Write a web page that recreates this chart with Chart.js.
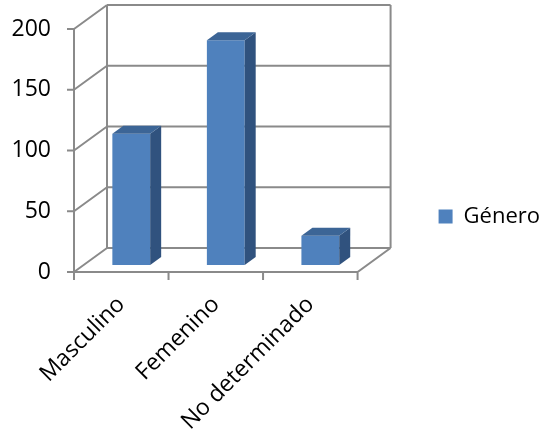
<!DOCTYPE html>
<html lang="es">
<head>
  <meta charset="UTF-8" />
  <title>Género</title>
  <script src="https://cdn.jsdelivr.net/npm/chart.js"></script>
  <style>
    html, body { margin: 0; padding: 0; background: #fff; }
    .wrap { width: 541px; height: 433px; }
  </style>
</head>
<body>
  <div class="wrap"><canvas id="generoChart"></canvas></div>

  <script>
    const categories = ['Masculino', 'Femenino', 'No determinado'];
    const values = [108, 185, 24];
    const seriesLabel = 'Género';
    const yMin = 0, yMax = 200, yStep = 50;

    // caja 3D: fondo desplazado respecto al plano frontal
    const DEPTH_X = 33, DEPTH_Y = -24;
    const BAR_SHIFT_X = 10, BAR_SHIFT_Y = -7;   // las barras quedan hacia el centro de la caja
    const BAR_DEPTH_X = 11, BAR_DEPTH_Y = -8;
    const FRONT_TOP = 29;     // borde superior del plano frontal (deja sitio a la pared del fondo)
    const RIGHT_GAP = 80;     // espacio entre el plano frontal y la leyenda
    const LINE = '#8a8a8a';
    const FONT = "'Open Sans', sans-serif";

    const box3d = {
      id: 'box3d',
      afterLayout(chart) {
        // recortar las escalas al plano frontal de la caja
        const x = chart.scales.x, y = chart.scales.y;
        x.right = chart.chartArea.right - RIGHT_GAP;
        x.width = x.right - x.left;
        x.configure();
        y.top = FRONT_TOP;
        y.height = y.bottom - y.top;
        y.configure();
      },
      beforeDatasetsDraw(chart) {
        const ctx = chart.ctx, x = chart.scales.x, y = chart.scales.y;
        const L = x.left, R = x.right, B = y.getPixelForValue(yMin), T = y.getPixelForValue(yMax);
        ctx.save();
        ctx.strokeStyle = LINE;
        ctx.lineWidth = 2;
        ctx.beginPath();
        // pared del fondo
        ctx.moveTo(L + DEPTH_X, T + DEPTH_Y); ctx.lineTo(L + DEPTH_X, B + DEPTH_Y);
        ctx.moveTo(R + DEPTH_X, T + DEPTH_Y); ctx.lineTo(R + DEPTH_X, B + DEPTH_Y);
        for (let v = yMin; v <= yMax; v += yStep) {
          const py = y.getPixelForValue(v);
          ctx.moveTo(L + DEPTH_X, py + DEPTH_Y); ctx.lineTo(R + DEPTH_X, py + DEPTH_Y);
          // pared izquierda
          ctx.moveTo(L, py); ctx.lineTo(L + DEPTH_X, py + DEPTH_Y);
          // marcas del eje y
          ctx.moveTo(L - 7, py); ctx.lineTo(L, py);
        }
        // eje y y borde frontal del suelo
        ctx.moveTo(L, T); ctx.lineTo(L, B); ctx.lineTo(R, B);
        ctx.lineTo(R + DEPTH_X, B + DEPTH_Y);
        // marcas entre categorías
        const step = (R - L) / categories.length;
        for (let i = 0; i <= categories.length; i++) {
          const px = L + i * step;
          ctx.moveTo(px, B); ctx.lineTo(px, B + 8);
        }
        ctx.stroke();
        ctx.restore();

        ctx.save();
        ctx.translate(BAR_SHIFT_X, BAR_SHIFT_Y);
      },
      afterDatasetsDraw(chart) {
        const ctx = chart.ctx;
        chart.getDatasetMeta(0).data.forEach(bar => {
          const { x, y, base, width } = bar.getProps(['x', 'y', 'base', 'width'], true);
          const l = x - width / 2, r = x + width / 2;
          // cara lateral
          ctx.fillStyle = '#30527e';
          ctx.beginPath();
          ctx.moveTo(r, y); ctx.lineTo(r + BAR_DEPTH_X, y + BAR_DEPTH_Y);
          ctx.lineTo(r + BAR_DEPTH_X, base + BAR_DEPTH_Y); ctx.lineTo(r, base);
          ctx.closePath(); ctx.fill();
          // cara superior
          ctx.fillStyle = '#3c6596';
          ctx.beginPath();
          ctx.moveTo(l, y); ctx.lineTo(l + BAR_DEPTH_X, y + BAR_DEPTH_Y);
          ctx.lineTo(r + BAR_DEPTH_X, y + BAR_DEPTH_Y); ctx.lineTo(r, y);
          ctx.closePath(); ctx.fill();
        });
        ctx.restore();
      }
    };

    new Chart(document.getElementById('generoChart'), {
      type: 'bar',
      data: {
        labels: categories,
        datasets: [{
          label: seriesLabel,
          data: values,
          backgroundColor: '#4f81bd',
          borderWidth: 0,
          barPercentage: 0.4,
          categoryPercentage: 1.0,
          clip: false
        }]
      },
      options: {
        responsive: true,
        maintainAspectRatio: false,
        animation: false,
        layout: { padding: { top: 0, left: 0, bottom: 0, right: -9 } },
        plugins: {
          legend: {
            position: 'right',
            labels: {
              boxWidth: 14,
              boxHeight: 14,
              padding: 1,
              color: '#000',
              font: { family: FONT, size: 22 }
            }
          },
          tooltip: { enabled: false }
        },
        scales: {
          x: {
            grid: { display: false, drawTicks: false },
            border: { display: false },
            ticks: {
              color: '#000',
              font: { family: FONT, size: 23 },
              minRotation: 45,
              maxRotation: 45,
              autoSkip: false,
              padding: 19
            },
            afterFit: s => { s.height = 161; }
          },
          y: {
            min: yMin,
            max: yMax,
            grid: { display: false, drawTicks: false },
            border: { display: false },
            ticks: {
              stepSize: yStep,
              color: '#000',
              font: { family: FONT, size: 23 },
              padding: 23
            },
            afterFit: s => { s.width = 74; }
          }
        }
      },
      plugins: [box3d]
    });
  </script>
</body>
</html>
